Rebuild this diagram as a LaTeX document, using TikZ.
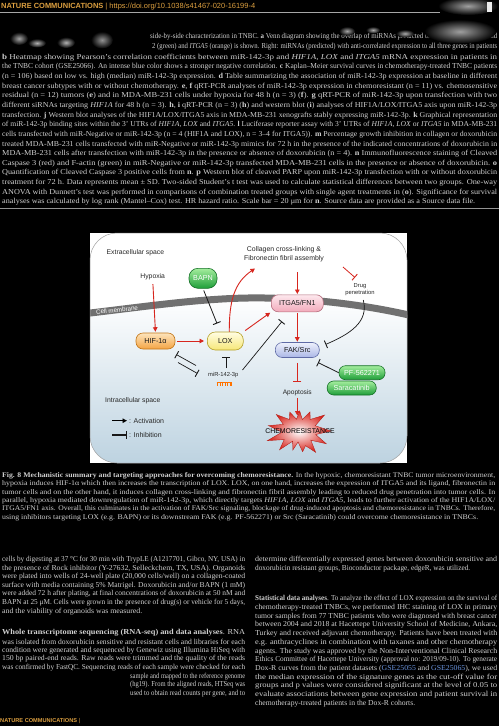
\documentclass[tikz,border=0pt]{standalone}
\usepackage{fontspec}
\usepackage{graphicx}
\setmainfont{Liberation Serif}
\newfontfamily\lsans{Liberation Sans}
\usetikzlibrary{arrows.meta}
\definecolor{ptext}{HTML}{D0D0D0}
\definecolor{hdr}{HTML}{DDA040}
\definecolor{rarr}{HTML}{D7261E}
\definecolor{memb}{HTML}{707070}
\definecolor{gtop}{HTML}{A4EE9E}
\definecolor{gbot}{HTML}{1E9E38}
\definecolor{gdrw}{HTML}{147026}
\definecolor{otop}{HTML}{FDE4BC}
\definecolor{obot}{HTML}{F4A443}
\definecolor{odrw}{HTML}{C27619}
\definecolor{ytop}{HTML}{FFFDE3}
\definecolor{ybot}{HTML}{F6E777}
\definecolor{ydrw}{HTML}{B3A02B}
\definecolor{ptop}{HTML}{FDE8EE}
\definecolor{pbot}{HTML}{F2AABA}
\definecolor{pdrw}{HTML}{B46C7C}
\definecolor{btop}{HTML}{EEF1FC}
\definecolor{bbot}{HTML}{AAB6E6}
\definecolor{bdrw}{HTML}{5F6BA6}
\definecolor{icell}{HTML}{BCD2E0}
\definecolor{linkblue}{HTML}{6A95E0}
\newcommand\tl[3]{\node[tline] at (#1) {\resizebox{#2pt}{5.3pt}{#3}};}
\newcommand\cl[3]{\node[tline] at (#1) {\resizebox{#2pt}{5.0pt}{#3}};}
\begin{document}
\begin{tikzpicture}[x=1pt,y=-1pt,
  tline/.style={anchor=west, inner sep=0pt, text=ptext, font=\fontsize{7}{8}\selectfont},
  lbl/.style={inner sep=0pt, text=black!85, font=\lsans\fontsize{6.8}{8.5}\selectfont},
  slbl/.style={lbl, font=\lsans\fontsize{5.8}{6.8}\selectfont},
  box/.style={draw, line width=0.6pt, rounded corners=6pt, inner sep=0pt, text=black!90, font=\lsans\fontsize{7.2}{8}\selectfont},
  gbox/.style={box, top color=gtop, bottom color=gbot, draw=gdrw, text=white},
  obox/.style={box, top color=otop, bottom color=obot, draw=odrw},
  ybox/.style={box, top color=ytop, bottom color=ybot, draw=ydrw},
  pbox/.style={box, top color=ptop, bottom color=pbot, draw=pdrw},
  bbox/.style={box, top color=btop, bottom color=bbot, draw=bdrw},
  act/.style={draw=rarr, line width=0.9pt, -{Triangle[length=4.5pt,width=4.5pt]}},
  kact/.style={draw=black, line width=0.9pt, -{Triangle[length=4.5pt,width=4.5pt]}},
  inh/.style={draw=black!90, line width=0.8pt, -{Bar[width=8pt,line width=0.9pt]}},
  rinh/.style={inh, draw=rarr},
  blob/.style={inner color=#1, outer color=black}
]
\useasboundingbox (0,0) rectangle (499,726);
\fill[black] (0,0) rectangle (499,726);

% ---------- header ----------
\node[anchor=west, inner sep=0pt, text=hdr, font=\lsans\fontsize{7}{8}\selectfont] (hdr) at (1,6.5)
  {\resizebox{254pt}{!}{\textbf{NATURE COMMUNICATIONS} | https://doi.org/10.1038/s41467-020-16199-4}};
\draw[gray!70, line width=0.8pt] (0,12.5) -- (440,12.5);
\shade[blob=gray!75] (468,6) ellipse (30 and 9);
\fill[white!85!gray] (487,2) rectangle (492,12);

% ---------- upper caption (Fig. 7) ----------
\tl{150,37}{347}{side-by-side characterization in TNBC. \textbf{a} Venn diagram showing the overlap of miRNAs predicted to target \textit{HIF1A}, \textit{LOX} and}
\tl{152,46.5}{345}{2 (green) and \textit{ITGA5} (orange) is shown. Right: miRNAs (predicted) with anti-correlated expression to all three genes in patients}
\tl{2,57.5}{495}{\textbf{b} Heatmap showing Pearson's correlation coefficients between miR-142-3p and \textit{HIF1A}, \textit{LOX} and \textit{ITGA5} mRNA expression in patients in}
\tl{2,67.1}{495}{the TNBC cohort (GSE25066). An intense blue color shows a stronger negative correlation. \textbf{c} Kaplan–Meier survival curves in chemotherapy-treated TNBC patients}
\tl{2,76.8}{495}{(n = 106) based on low vs. high (median) miR-142-3p expression. \textbf{d} Table summarizing the association of miR-142-3p expression at baseline in different}
\tl{2,86.4}{495}{breast cancer subtypes with or without chemotherapy. \textbf{e}, \textbf{f} qRT-PCR analyses of miR-142-3p expression in chemoresistant (n = 11) vs. chemosensitive}
\tl{2,96.0}{495}{residual (n = 12) tumors (\textbf{e}) and in MDA-MB-231 cells under hypoxia for 48 h (n = 3) (\textbf{f}). \textbf{g} qRT-PCR of miR-142-3p upon transfection with two}
\tl{2,105.7}{495}{different siRNAs targeting \textit{HIF1A} for 48 h (n = 3). \textbf{h}, \textbf{i} qRT-PCR (n = 3) (\textbf{h}) and western blot (\textbf{i}) analyses of HIF1A/LOX/ITGA5 axis upon miR-142-3p}
\tl{2,115.3}{495}{transfection. \textbf{j} Western blot analyses of the HIF1A/LOX/ITGA5 axis in MDA-MB-231 xenografts stably expressing miR-142-3p. \textbf{k} Graphical representation}
\tl{2,124.9}{495}{of miR-142-3p binding sites within the 3' UTRs of \textit{HIF1A}, \textit{LOX} and \textit{ITGA5}. \textbf{l} Luciferase reporter assay with 3' UTRs of \textit{HIF1A}, \textit{LOX} or \textit{ITGA5} in MDA-MB-231}
\tl{2,134.5}{495}{cells transfected with miR-Negative or miR-142-3p (n = 4 (HIF1A and LOX), n = 3–4 for ITGA5)). \textbf{m} Percentage growth inhibition in collagen or doxorubicin}
\tl{2,144.2}{495}{treated MDA-MB-231 cells transfected with miR-Negative or miR-142-3p mimics for 72 h in the presence of the indicated concentrations of doxorubicin in}
\tl{2,153.8}{495}{MDA-MB-231 cells after transfection with miR-142-3p in the presence or absence of doxorubicin (n = 4). \textbf{n} Immunofluorescence staining of Cleaved}
\tl{2,163.4}{495}{Caspase 3 (red) and F-actin (green) in miR-Negative or miR-142-3p transfected MDA-MB-231 cells in the presence or absence of doxorubicin. \textbf{o}}
\tl{2,173.1}{495}{Quantification of Cleaved Caspase 3 positive cells from \textbf{n}. \textbf{p} Western blot of cleaved PARP upon miR-142-3p transfection with or without doxorubicin}
\tl{2,182.7}{495}{treatment for 72 h. Data represents mean ± SD. Two-sided Student's t test was used to calculate statistical differences between two groups. One-way}
\tl{2,192.3}{495}{ANOVA with Dunnett's test was performed in comparisons of combination treated groups with single agent treatments in (\textbf{o}). Significance for survival}
\tl{2,202.0}{473}{analyses was calculated by log rank (Mantel–Cox) test. HR hazard ratio. Scale bar = 20 μm for \textbf{n}. Source data are provided as a Source data file.}
\draw[gray!85!white, line width=1pt] (0,208.5) -- (499,208.5);

% blurred figure fragments
\shade[blob=gray!70] (19,38.5) ellipse (9 and 6.5);
\shade[blob=gray!60] (37,43) ellipse (9 and 4.5);
\shade[blob=gray!60] (66,42.5) ellipse (9 and 5.5);
\shade[blob=gray!85] (102,40) ellipse (11 and 8.5);
\shade[blob=gray!70] (347,31) ellipse (8 and 4.5);
\shade[blob=gray!65] (373,30) ellipse (7 and 3.5);
\shade[blob=gray!65] (405,33.5) ellipse (9 and 4);
\shade[blob=gray!75] (460,31.5) ellipse (36 and 12);

% ---------- diagram ----------
\fill[white] (90,233) rectangle (407,463);
\begin{scope}
  \clip[rounded corners=27pt] (90,233) rectangle (407,463);
  \shade[top color=white, bottom color=icell]
    (86,313.5) .. controls (150,306) and (210,297) .. (265,298) .. controls (320,299) and (370,306) .. (411,315.5)
    -- (411,466) -- (86,466) -- cycle;
  \draw[memb, line width=7pt] (86,313.5) .. controls (150,306) and (210,297) .. (265,298) .. controls (320,299) and (370,306) .. (411,315.5);
\end{scope}
\draw[gray!75, line width=0.5pt, rounded corners=27pt] (90,233) rectangle (407,463);
\node[font=\lsans\fontsize{6.2}{6.5}\selectfont, text=white, rotate=6, inner sep=0pt] (cm) at (117,310) {Cell membrane};

% labels
\node[lbl, anchor=west] (ecs) at (106.5,253) {Extracellular space};
\node[lbl] (hyp) at (152.7,276.7) {Hypoxia};
\node[lbl, align=center, font=\lsans\fontsize{6.9}{8.4}\selectfont] (coll) at (284,254.3) {Collagen cross-linking \&\\Fibronectin fibril assembly};
\node[slbl, align=center] (drug) at (360,289.3) {Drug\\penetration};
\node[slbl] (mir) at (223.3,375) {miR-142-3p};
\node[lbl, font=\lsans\fontsize{6.6}{8}\selectfont] (apo) at (297.3,392.7) {Apoptosis};
\node[lbl, anchor=west] (ics) at (105,401) {Intracellular space};
\node[lbl, anchor=west, font=\lsans\fontsize{7}{8}\selectfont] (actl) at (129,420.7) {: Activation};
\node[lbl, anchor=west, font=\lsans\fontsize{7}{8}\selectfont] (inhl) at (129,435) {: Inhibition};

% miRNA hairpin icon
\draw[orange!90!red, line width=0.7pt] (216.5,382) -- (232,382);
\foreach \xx in {217.5,220,222.5,225,227.5,230,231.5}
  \draw[orange!90!red, line width=0.6pt] (\xx,382) -- (\xx,386);

% boxes
\node[gbox, minimum width=28pt, minimum height=20pt, rounded corners=9pt] (bapn) at (203,278.3) {BAPN};
\node[obox, minimum width=39pt, minimum height=16pt, rounded corners=7pt] (hif) at (155.5,341) {HIF-1α};
\node[ybox, minimum width=36pt, minimum height=18pt, rounded corners=8pt] (lox) at (225.3,341) {LOX};
\node[pbox, minimum width=52pt, minimum height=17pt, rounded corners=7pt] (itga) at (297.3,303.3) {ITGA5/FN1};
\node[bbox, minimum width=44pt, minimum height=15pt, rounded corners=7pt] (fak) at (297.3,350) {FAK/Src};
\node[gbox, minimum width=46pt, minimum height=14pt, rounded corners=6.5pt] (pf) at (362,372.7) {PF-562271};
\node[gbox, minimum width=49pt, minimum height=14pt, rounded corners=6.5pt] (sara) at (351.7,388) {Saracatinib};

% starburst
\shade[inner color=white, outer color=rarr, draw=rarr!85!black, line width=0.4pt, shift={(299,431)}]
  (0:32) -- (12:17) -- (25:30) -- (38:15) -- (52:27) -- (66:16) -- (80:21) -- (95:11)
  -- (108:20) -- (122:12) -- (136:27) -- (150:17) -- (163:33) -- (176:17) -- (190:31)
  -- (203:17) -- (216:28) -- (230:15) -- (244:21) -- (258:12) -- (272:20) -- (286:12)
  -- (300:22) -- (314:16) -- (328:30) -- (342:17) -- cycle;
\node[inner sep=0pt, text=black, font=\lsans\fontsize{6.9}{8}\selectfont] (chemo) at (300,431) {CHEMORESISTANCE};

% coordinates for free ends
\coordinate (bapnT) at (217,323.5);
\coordinate (collIn) at (255,268.5);
\coordinate (collOut) at (297.3,272);
\coordinate (c2d) at (343,267);
\coordinate (drugT) at (355,277.5);
\coordinate (drugOut) at (363.3,300);
\coordinate (fakT) at (325.5,344.5);
\coordinate (mirNE) at (242.5,370);
\coordinate (itgaT) at (282,321.5);
\coordinate (m2l) at (226,368);
\coordinate (loxT) at (226,357);
\coordinate (m2h) at (196,365.5);
\coordinate (hifT) at (176.3,354.5);
\coordinate (h2m) at (178,362.5);
\coordinate (mirT) at (197.5,373.5);
\coordinate (fakPF) at (318,362.5);
\coordinate (apoT) at (297.3,381.7);
\coordinate (burstTop) at (297.3,415.5);
\coordinate (la1) at (112,420.7);
\coordinate (la2) at (127,420.7);
\coordinate (li1) at (112,435);
\coordinate (li2) at (127,435);

% connectors
\draw[act, shorten <=4pt, shorten >=1pt] (hyp.south) -- (hif.north);
\draw[inh, shorten <=2pt] (bapn.south) -- (bapnT);
\draw[act, shorten <=1.5pt, shorten >=3pt] (hif.east) -- (lox.west);
\draw[act] ([xshift=4pt]lox.north) .. controls (229,300) and (235,282) .. (collIn);
\draw[act, shorten >=0.5pt] (collOut) -- (itga.north);
\draw[rinh] (c2d) -- (drugT);
\draw[inh, line width=0.7pt] (drugOut) .. controls (369,322) and (350,334) .. (fakT);
\draw[act, shorten <=2pt, shorten >=1pt] (lox.north east) -- (itga.south west);
\draw[inh, line width=0.7pt] (mirNE) -- (itgaT);
\draw[inh, line width=0.7pt] (m2l) -- (loxT);
\draw[inh, line width=0.7pt] (m2h) -- (hifT);
\draw[inh, line width=0.7pt] (h2m) -- (mirT);
\draw[act, shorten <=1pt, shorten >=0.5pt] (itga.south) -- (fak.north);
\draw[inh] (pf.west) -- (fakPF);
\draw[rinh, shorten <=5pt] (fak.south) -- (apoT);
\draw[act, shorten <=2pt] (apo.south) -- (burstTop);
\draw[kact] (la1) -- (la2);
\draw[inh, line width=1.2pt] (li1) -- (li2);

% ---------- Fig. 8 caption ----------
\cl{2,475.5}{493}{\textbf{Fig. 8 Mechanistic summary and targeting approaches for overcoming chemoresistance.} In the hypoxic, chemoresistant TNBC tumor microenvironment,}
\cl{2,483.9}{493}{hypoxia induces HIF-1α which then increases the transcription of LOX. LOX, on one hand, increases the expression of ITGA5 and its ligand, fibronectin in}
\cl{2,492.3}{493}{tumor cells and on the other hand, it induces collagen cross-linking and fibronectin fibril assembly leading to reduced drug penetration into tumor cells. In}
\cl{2,500.7}{493}{parallel, hypoxia mediated downregulation of miR-142-3p, which directly targets \textit{HIF1A}, \textit{LOX} and \textit{ITGA5}, leads to further activation of the HIF1A/LOX/}
\cl{2,509.1}{493}{ITGA5/FN1 axis. Overall, this culminates in the activation of FAK/Src signaling, blockage of drug-induced apoptosis and chemoresistance in TNBCs. Therefore,}
\cl{2,517.5}{476}{using inhibitors targeting LOX (e.g. BAPN) or its downstream FAK (e.g. PF-562271) or Src (Saracatinib) could overcome chemoresistance in TNBCs.}

% ---------- body text, left column ----------
\tl{2,559.5}{243}{cells by digesting at 37 °C for 30 min with TrypLE (A1217701, Gibco, NY, USA) in}
\tl{2,568.2}{243}{the presence of Rock inhibitor (Y-27632, Selleckchem, TX, USA). Organoids}
\tl{2,576.8}{243}{were plated into wells of 24-well plate (20,000 cells/well) on a collagen-coated}
\tl{2,585.5}{243}{surface with media containing 5\% Matrigel. Doxorubicin and/or BAPN (1 mM)}
\tl{2,594.1}{243}{were added 72 h after plating, at final concentrations of doxorubicin at 50 nM and}
\tl{2,602.8}{243}{BAPN at 25 μM. Cells were grown in the presence of drug(s) or vehicle for 5 days,}
\tl{2,611.4}{140}{and the viability of organoids was measured.}
\tl{2,633}{243}{\textbf{Whole transcriptome sequencing (RNA-seq) and data analyses}. RNA}
\tl{2,641.6}{243}{was isolated from doxorubicin sensitive and resistant cells and libraries for each}
\tl{2,650.3}{243}{condition were generated and sequenced by Genewiz using Illumina HiSeq with}
\tl{2,658.9}{243}{150 bp paired-end reads. Raw reads were trimmed and the quality of the reads}
\tl{2,667.6}{243}{was confirmed by FastQC. Sequencing reads of each sample were checked for each}
\tl{130,676.2}{115}{sample and mapped to the reference genome}
\tl{130,684.9}{115}{(hg19). From the aligned reads, HTSeq was}
\tl{130,693.5}{115}{used to obtain read counts per gene, and to}

% ---------- body text, right column ----------
\tl{255,559.5}{242}{determine differentially expressed genes between doxorubicin sensitive and}
\tl{255,568.2}{215}{doxorubicin resistant groups, Bioconductor package, edgeR, was utilized.}
\tl{255,599}{242}{\textbf{Statistical data analyses}. To analyze the effect of LOX expression on the survival of}
\tl{255,607.7}{242}{chemotherapy-treated TNBCs, we performed IHC staining of LOX in primary}
\tl{255,616.4}{242}{tumor samples from 77 TNBC patients who were diagnosed with breast cancer}
\tl{255,625.1}{242}{between 2004 and 2018 at Hacettepe University School of Medicine, Ankara,}
\tl{255,633.8}{242}{Turkey and received adjuvant chemotherapy. Patients have been treated with}
\tl{255,642.5}{242}{e.g. anthracyclines in combination with taxanes and other chemotherapy}
\tl{255,651.2}{242}{agents. The study was approved by the Non-Interventional Clinical Research}
\tl{255,659.9}{242}{Ethics Committee of Hacettepe University (approval no: 2019/09-10). To generate}
\tl{255,668.6}{242}{Dox-R curves from the patient datasets ({\color{linkblue}GSE25055} and {\color{linkblue}GSE25065}), we used}
\tl{255,677.3}{242}{the median expression of the signature genes as the cut-off value for}
\tl{255,686}{242}{groups and p values were considered significant at the level of 0.05 to}
\tl{255,694.7}{242}{evaluate associations between gene expression and patient survival in}
\tl{255,703.4}{160}{chemotherapy-treated patients in the Dox-R cohorts.}

% footer
\node[anchor=west, inner sep=0pt, text=hdr, font=\lsans\fontsize{7}{8}\selectfont] (ftr) at (0,721) {\resizebox{80pt}{!}{\textbf{NATURE COMMUNICATIONS} |}};
\end{tikzpicture}
\end{document}
